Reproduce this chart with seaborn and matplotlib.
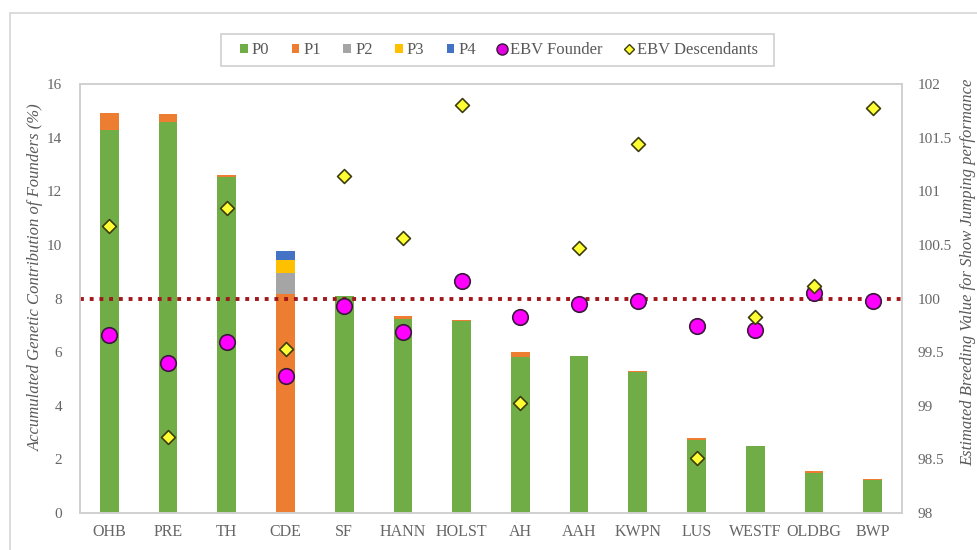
import numpy as np
import pandas as pd
import matplotlib
matplotlib.use("Agg")
import matplotlib.pyplot as plt
from matplotlib.ticker import FuncFormatter, MultipleLocator
from matplotlib.lines import Line2D
from matplotlib.patches import Patch, Rectangle
import seaborn as sns

breeds = ["OHB", "PRE", "TH", "CDE", "SF", "HANN", "HOLST", "AH", "AAH",
          "KWPN", "LUS", "WESTF", "OLDBG", "BWP"]
p0 = [14.28, 14.58, 12.55, 0.0, 8.10, 7.22, 7.15, 5.82, 5.87, 5.25, 2.74, 2.50, 1.50, 1.22]
p1 = [0.64, 0.30, 0.06, 8.15, 0.0, 0.12, 0.06, 0.17, 0.0, 0.06, 0.05, 0.0, 0.05, 0.05]
p2 = [0, 0, 0, 0.81, 0, 0, 0, 0, 0, 0, 0, 0, 0, 0]
p3 = [0, 0, 0, 0.47, 0, 0, 0, 0, 0, 0, 0, 0, 0, 0]
p4 = [0, 0, 0, 0.34, 0, 0, 0, 0, 0, 0, 0, 0, 0, 0]
ebv_founder = [99.66, 99.40, 99.59, 99.28, 99.93, 99.69, 100.16, 99.83, 99.95,
               99.98, 99.74, 99.71, 100.05, 99.98]
ebv_desc = [100.68, 98.71, 100.84, 99.53, 101.14, 100.56, 101.80, 99.03, 100.47,
            101.44, 98.51, 99.83, 100.12, 101.78]
ebv_reference = 100.0

series_names = ["P0", "P1", "P2", "P3", "P4"]
series_vals = [p0, p1, p2, p3, p4]
colors = ["#70AD47", "#ED7D31", "#A5A5A5", "#FFC000", "#4472C4"]

sns.set_style("white")
plt.rcParams["font.family"] = ["Liberation Serif", "DejaVu Serif"]
text_col = "#595959"
tick_col = "#666666"

fig = plt.figure(figsize=(9.78, 5.5), dpi=100)
ax = fig.add_axes([80/978, 1-513/550, (902-80)/978, (513-84)/550])

# stacked bars: draw cumulative totals from top layer down
cum = np.cumsum(np.array(series_vals), axis=0)
for i in range(len(series_names) - 1, -1, -1):
    df = pd.DataFrame({"breed": breeds, "val": cum[i]})
    sns.barplot(data=df, x="breed", y="val", color=colors[i], width=0.32,
                saturation=1, ax=ax, linewidth=0, order=breeds)

ax.set_ylim(0, 16)
ax.set_xlim(-0.5, len(breeds) - 0.5)
ax.yaxis.set_major_locator(MultipleLocator(2))
ax.set_xlabel("")
ax.set_ylabel("")
ax.tick_params(axis="both", length=0, colors=tick_col)
ax.tick_params(axis="y", pad=13, labelsize=11)
ax.tick_params(axis="x", pad=8, labelsize=11.5)
for s in ax.spines.values():
    s.set_color("#D0D0D0")
    s.set_linewidth(1.2)

ax2 = ax.twinx()
ax2.set_ylim(98, 102)
xpos = np.arange(len(breeds))
ax2.axhline(ebv_reference, color="#A0181C", linestyle=(0, (1, 1.5)), linewidth=2.8, zorder=2)
sns.scatterplot(x=xpos, y=ebv_founder, ax=ax2, marker="o", s=125, color="#FF00FF",
                edgecolor="#3A1A3A", linewidth=1.2, zorder=4)
sns.scatterplot(x=xpos, y=ebv_desc, ax=ax2, marker="D", s=50, color="#FFFF33",
                edgecolor="#3D3D10", linewidth=1.2, zorder=5)
ax2.set_xlim(-0.5, len(breeds) - 0.5)
ax2.yaxis.set_major_locator(MultipleLocator(0.5))
ax2.yaxis.set_major_formatter(FuncFormatter(lambda v, p: f"{v:g}"))
ax2.tick_params(axis="y", length=0, labelsize=11, colors=tick_col, pad=11)
ax2.set_ylabel("")
for s in ax2.spines.values():
    s.set_color("#D0D0D0")
    s.set_linewidth(1.2)

fig.text(36/978, 1-277/550, "Accumulated Genetic Contribution of Founders (%)",
         rotation=90, ha="center", va="center", style="italic", fontsize=12, color=text_col)
fig.text(968/978, 1-272/550, "Estimated Breeding Value for Show Jumping performance",
         rotation=90, ha="center", va="center", style="italic", fontsize=12, color=text_col)

handles = [Patch(facecolor=c, edgecolor="none") for c in colors]
handles += [Line2D([], [], marker="o", linestyle="none", markersize=8,
                   markerfacecolor="#E000E0", markeredgecolor="#3A1A3A"),
            Line2D([], [], marker="D", linestyle="none", markersize=5.5,
                   markerfacecolor="#FFFF33", markeredgecolor="#3D3D10")]
labels = series_names + ["EBV Founder", "EBV Descendants"]
leg = fig.legend(handles, labels, loc="center", bbox_to_anchor=(499/978, 1-50/550),
                 ncol=7, frameon=False, fontsize=12, handlelength=0.45,
                 handleheight=0.45, handletextpad=0.25, columnspacing=1.35,
                 borderpad=0.5, labelcolor=text_col)
fig.patches.append(Rectangle((221/978, 1-66/550), (774-221)/978, 32/550,
                             transform=fig.transFigure, fill=False,
                             edgecolor="#CFCFCF", linewidth=1.2))

fig.patches.append(Rectangle((10/978, -0.05), 1.1, 1-13/550+0.05, transform=fig.transFigure,
                             fill=False, edgecolor="#D6D6D6", linewidth=1.2))

fig.savefig("out.png", dpi=100, facecolor="white")
